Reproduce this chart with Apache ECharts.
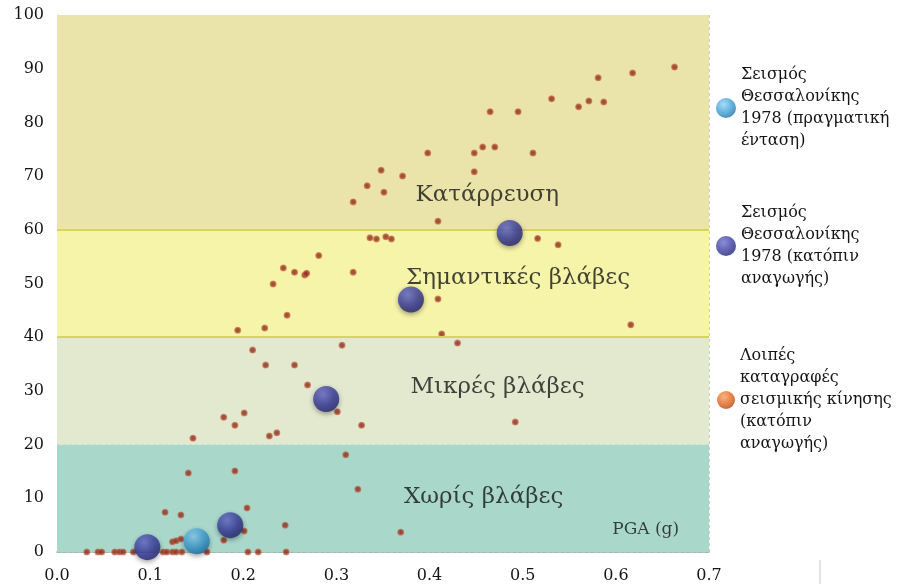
<!DOCTYPE html>
<html><head><meta charset="utf-8">
<script src="https://cdn.jsdelivr.net/npm/echarts@6/dist/echarts.min.js"></script>
<style>html,body{margin:0;padding:0;background:#fff}#c{width:916px;height:584px}</style>
</head><body><div id="c"></div><script>
// ---- data ----
const bandEdges = [0, 20, 40, 60, 100];
const bandNames = ['Χωρίς βλάβες', 'Μικρές βλάβες', 'Σημαντικές βλάβες', 'Κατάρρευση'];
const bandColors = ['#a9d8cb', '#e2e9cf', '#f6f4a8', '#ebe4aa'];
const bandLabelX = [0.458, 0.473, 0.495, 0.462];
const bandLabelY = [10.2, 30.7, 51.0, 66.5];
const axisNameText = 'PGA (g)';
const axisNameX = [0.632];
const axisNameY = [4.1];

const actualPGA = [0.150];
const actualDI = [2.0];
const reducedPGA = [0.097, 0.186, 0.289, 0.380, 0.486];
const reducedDI = [0.9, 5.0, 28.5, 47.0, 59.4];
const otherPGA = [0.032, 0.044, 0.048, 0.062, 0.067, 0.071, 0.082, 0.114, 0.118, 0.124, 0.128, 0.134, 0.161, 0.205, 0.216, 0.246,
  0.124, 0.128, 0.133, 0.179, 0.201, 0.245, 0.369, 0.116, 0.133, 0.204, 0.323, 0.141, 0.191, 0.310,
  0.146, 0.228, 0.236, 0.191, 0.327, 0.492, 0.179, 0.201, 0.301, 0.269, 0.224, 0.255, 0.210, 0.306, 0.430, 0.413, 0.194, 0.223, 0.616, 0.247,
  0.409, 0.232, 0.266, 0.268, 0.255, 0.318, 0.243, 0.281, 0.516, 0.538, 0.336, 0.343, 0.353, 0.359,
  0.409, 0.318, 0.351, 0.333, 0.371, 0.448, 0.348, 0.398, 0.448, 0.511, 0.457, 0.470, 0.465, 0.495, 0.560, 0.587, 0.571, 0.531, 0.581, 0.618, 0.663];
const otherDI = [0, 0, 0, 0, 0, 0, 0, 0, 0, 0, 0, 0, 0, 0, 0, 0,
  1.9, 2.1, 2.4, 2.2, 3.9, 5.0, 3.7, 7.4, 6.9, 8.2, 11.7, 14.7, 15.1, 18.1,
  21.2, 21.6, 22.2, 23.6, 23.6, 24.2, 25.1, 25.9, 26.1, 31.1, 34.8, 34.8, 37.6, 38.5, 38.9, 40.6, 41.3, 41.7, 42.3, 44.1,
  47.1, 49.9, 51.6, 51.9, 52.1, 52.1, 52.9, 55.2, 58.4, 57.2, 58.5, 58.3, 58.7, 58.3,
  61.6, 65.2, 67.0, 68.2, 70.0, 70.8, 71.1, 74.3, 74.3, 74.3, 75.4, 75.4, 82.0, 82.0, 82.9, 83.8, 84.0, 84.4, 88.3, 89.2, 90.3];

const nameActual = 'Σεισμός\nΘεσσαλονίκης\n1978 (πραγματική\nένταση)';
const nameReduced = 'Σεισμός\nΘεσσαλονίκης\n1978 (κατόπιν\nαναγωγής)';
const nameOther = 'Λοιπές\nκαταγραφές\nσεισμικής κίνησης\n(κατόπιν\nαναγωγής)';

// ---- styles ----
const serif = 'DejaVu Serif';
const ink = '#151515';
function sphere(light, mid, dark) {
  return { type: 'radial', x: 0.38, y: 0.32, r: 0.75,
    colorStops: [{ offset: 0, color: light }, { offset: 0.55, color: mid }, { offset: 1, color: dark }] };
}
const darkBlue = sphere('#6d73cf', '#3a3d9e', '#20216b');
const lightBlue = sphere('#8fd3f3', '#3d9fd6', '#1d6a9c');
const orange = sphere('#f5a060', '#e2661e', '#a9420c');
const smallDot = { type: 'radial', x: 0.5, y: 0.5, r: 0.5,
  colorStops: [{ offset: 0, color: '#7a2212' }, { offset: 0.6, color: '#9e3520' }, { offset: 1, color: 'rgba(200,100,70,0.75)' }] };

const pairs = (xs, ys) => xs.map((x, i) => [x, ys[i]]);

const markAreaData = bandNames.map((n, i) => [
  { yAxis: bandEdges[i], itemStyle: { color: bandColors[i] } },
  { yAxis: bandEdges[i + 1] }
]);
const boundaryLines = [40, 60];
const legendText = { fontFamily: serif, fontSize: 16, lineHeight: 22, color: ink };

const chart = echarts.init(document.getElementById('c'), null, { renderer: 'canvas' });
chart.setOption({
  animation: false,
  backgroundColor: '#ffffff',
  grid: { left: 57, right: 207, top: 15, bottom: 32, containLabel: false },
  xAxis: {
    type: 'value', min: 0, max: 0.7, interval: 0.1,
    axisLine: { show: true, onZero: false, lineStyle: { color: '#8fb0a8', width: 1.5 } },
    axisTick: { show: false },
    axisLabel: { margin: 16, color: ink, fontFamily: serif, fontSize: 16, formatter: v => v.toFixed(1) },
    splitLine: { show: true, lineStyle: { color: 'rgba(110,110,90,0.35)', type: [3, 3], width: 1 } }
  },
  yAxis: {
    type: 'value', min: 0, max: 100, interval: 10,
    axisLine: { show: true, lineStyle: { color: '#d8d8d0' } },
    axisTick: { show: false },
    axisLabel: { margin: 13, color: ink, fontFamily: serif, fontSize: 16 },
    splitLine: { show: true, lineStyle: { color: 'rgba(110,110,90,0.35)', type: [3, 3], width: 1 } }
  },
  legend: [
    { data: [{ name: nameActual }], orient: 'vertical', left: 711, top: 59, itemWidth: 20, itemHeight: 20,
      icon: 'circle', textStyle: legendText, selectedMode: false },
    { data: [{ name: nameReduced }], orient: 'vertical', left: 711, top: 172, itemWidth: 20, itemHeight: 20,
      icon: 'circle', textStyle: Object.assign({ padding: [50, 0, 0, 0] }, legendText), selectedMode: false },
    { data: [{ name: nameOther, itemStyle: { color: orange } }], orient: 'vertical', left: 712, top: 340, itemWidth: 18, itemHeight: 18,
      icon: 'circle', textStyle: legendText, selectedMode: false }
  ],
  series: [
    {
      name: 'bands', type: 'scatter', data: [], silent: true, z: 0,
      markArea: { silent: true, data: markAreaData },
      markLine: { silent: true, symbol: 'none', label: { show: false },
        lineStyle: { color: '#d6d45a', type: 'solid', width: 2 },
        data: boundaryLines.map(v => ({ yAxis: v })) }
    },
    {
      name: 'labels', type: 'scatter', silent: true, symbolSize: 0, z: 3,
      data: bandNames.map((n, i) => ({ value: [bandLabelX[i], bandLabelY[i]], name: n })),
      label: { show: true, position: 'inside', formatter: p => p.name, fontFamily: serif, fontSize: 23, color: ink }
    },
    {
      name: 'axisname', type: 'scatter', silent: true, symbolSize: 0, z: 3,
      data: [{ value: [axisNameX[0], axisNameY[0]], name: axisNameText }],
      label: { show: true, position: 'inside', formatter: p => p.name, fontFamily: serif, fontSize: 17, color: ink }
    },
    {
      name: nameOther, type: 'scatter', symbolSize: 7, z: 4,
      itemStyle: { color: smallDot },
      data: pairs(otherPGA, otherDI)
    },
    {
      name: nameReduced, type: 'scatter', symbolSize: 26, z: 5,
      itemStyle: { color: darkBlue, shadowBlur: 5, shadowColor: 'rgba(0,0,0,0.45)', shadowOffsetY: 2 },
      data: pairs(reducedPGA, reducedDI)
    },
    {
      name: nameActual, type: 'scatter', symbolSize: 26, z: 5,
      itemStyle: { color: lightBlue, shadowBlur: 5, shadowColor: 'rgba(0,0,0,0.45)', shadowOffsetY: 2 },
      data: pairs(actualPGA, actualDI)
    }
  ],
  graphic: [
    { type: 'line', shape: { x1: 820, y1: 560, x2: 820, y2: 584 }, style: { stroke: '#c8c8c8', lineWidth: 1 } }
  ]
});
</script></body></html>
